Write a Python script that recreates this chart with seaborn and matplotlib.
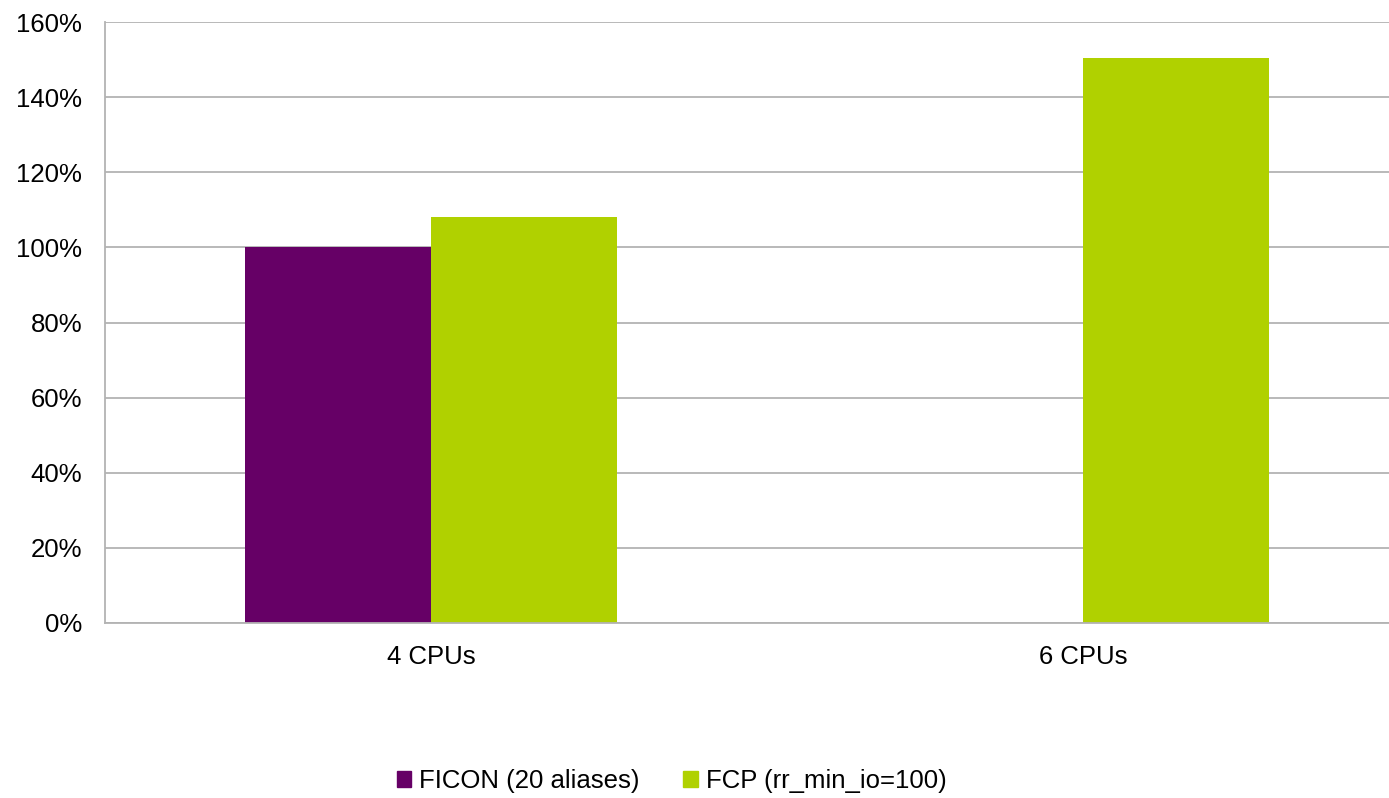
import numpy as np
import pandas as pd
import seaborn as sns
import matplotlib.pyplot as plt
from matplotlib.ticker import PercentFormatter

# values (percent)
categories = ["4 CPUs", "6 CPUs"]
series = ["FICON (20 aliases)", "FCP (rr_min_io=100)"]
ficon = [100, np.nan]
fcp = [108, 150.5]
colors = ["#660066", "#b0d100"]

df = pd.DataFrame({
    "cpus": categories * 2,
    "series": [series[0]] * 2 + [series[1]] * 2,
    "value": ficon + fcp,
})

sns.set_theme(style="white")
plt.rcParams["font.family"] = ["Liberation Sans", "DejaVu Sans"]

fig = plt.figure(figsize=(13.89, 7.98), dpi=100)
# axes run a bit past the right edge, as in the reference
ax = fig.add_axes([105 / 1389, 175 / 798, 1304 / 1389, 601 / 798])

sns.barplot(data=df, x="cpus", y="value", hue="series", order=categories,
            hue_order=series, palette=colors, width=0.57, saturation=1,
            errorbar=None, legend=False, linewidth=0, ax=ax)

ax.set_xlim(-0.5, 1.5)
ax.set_ylim(0, 160)
ax.set_yticks(range(0, 161, 20))
ax.yaxis.set_major_formatter(PercentFormatter(decimals=0))
ax.grid(axis="y", color="#b3b3b3", linewidth=1.3)
ax.set_axisbelow(True)
for side in ["top", "right"]:
    ax.spines[side].set_visible(False)
for side in ["left", "bottom"]:
    ax.spines[side].set_color("#b3b3b3")
    ax.spines[side].set_linewidth(1.3)
ax.set_xlabel("")
ax.set_ylabel("")
ax.tick_params(axis="both", labelsize=18.5, colors="black", length=0)
ax.tick_params(axis="y", pad=16.5)
ax.tick_params(axis="x", pad=16)

handles = [plt.Rectangle((0, 0), 1, 1, color=c) for c in colors]
fig.legend(handles, series, loc="center", bbox_to_anchor=(0.4835, 0.021),
           ncol=2, frameon=False, fontsize=18.5, labelcolor="black",
           handlelength=0.58, handleheight=0.58, handletextpad=0.3,
           columnspacing=1.7)

fig.savefig("out.png", dpi=100)
plt.close(fig)
